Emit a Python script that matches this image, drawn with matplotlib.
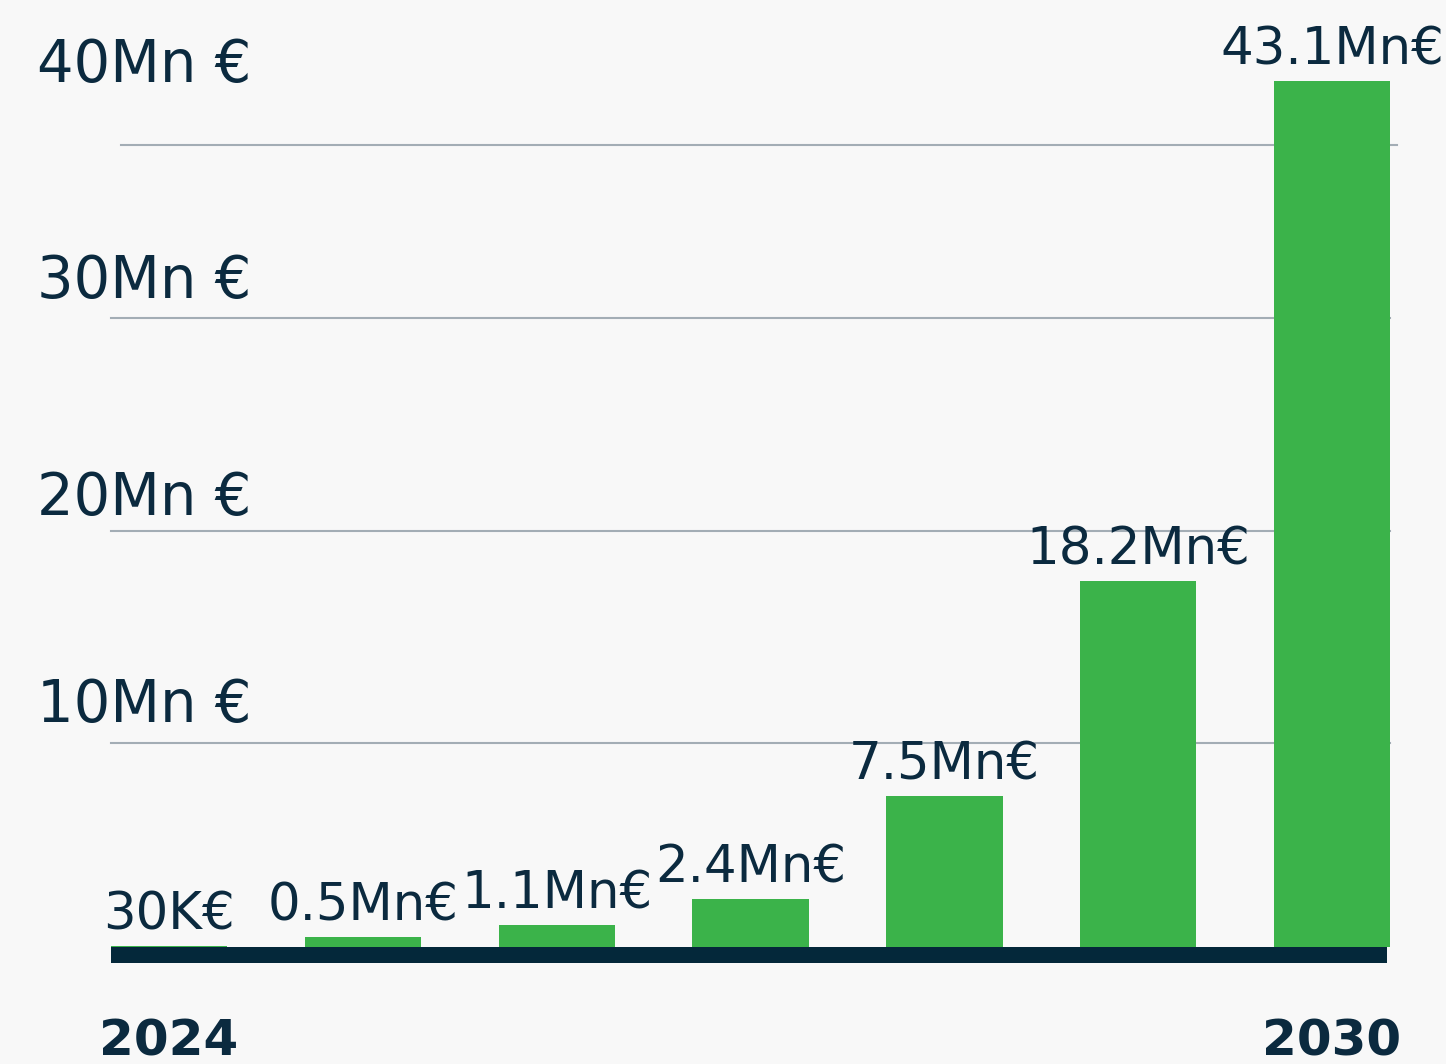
import matplotlib.pyplot as plt

# values in Mn EUR, 2024 -> 2030
years = ["2024", "2025", "2026", "2027", "2028", "2029", "2030"]
revenue = [0.03, 0.5, 1.1, 2.4, 7.5, 18.2, 43.1]
value_labels = ["30K€", "0.5Mn€", "1.1Mn€", "2.4Mn€", "7.5Mn€", "18.2Mn€", "43.1Mn€"]
tick_labels = ["10Mn €", "20Mn €", "30Mn €", "40Mn €"]
grid_levels = [10.15, 20.7, 31.3, 39.9]  # where the guide lines sit in the picture

bg = "#f8f8f8"
green = "#3bb34a"
navy = "#04283a"
text_c = "#0b2a3f"
grid_c = "#a3adb5"

fig = plt.figure(figsize=(14.46, 10.64), dpi=100, facecolor=bg)
ax = fig.add_axes([0, 0, 1, 1])
ax.set_facecolor(bg)
ax.set_xlim(-0.872, 6.588)
ax.set_ylim(-5.82, 47.14)
ax.axis("off")

x = list(range(len(years)))

# guide lines behind the bars
for i, g in enumerate(grid_levels):
    if i == len(grid_levels) - 1:
        ax.plot([-0.25, 6.336], [g, g], color=grid_c, lw=1.5, zorder=1)
    else:
        ax.plot([-0.3, 6.3], [g, g], color=grid_c, lw=1.5, zorder=1)

# y labels sit above their guide line
label_offsets = [21, 16, 20, 63]  # px above line
for g, lab, off in zip(grid_levels, tick_labels, label_offsets):
    ax.annotate(lab, (0, g), xycoords=("figure pixels", "data"),
                xytext=(37 * 0.72, off * 0.72), textcoords="offset points",
                fontsize=41.5, color=text_c, va="baseline", ha="left")

bars = ax.bar(x, revenue, width=0.6, color=green, zorder=2)

for xi, v, lab in zip(x, revenue, value_labels):
    ax.annotate(lab, (xi, v), xytext=(0, 12), textcoords="offset points",
                ha="center", va="baseline", fontsize=37, color=text_c, zorder=3)

# thick base strip under the bars
ax.fill_between([-0.3, 6.285], -0.8, 0, color=navy, lw=0, zorder=3)

for xi in (x[0], x[-1]):
    ax.text(xi, -5.38, years[xi], ha="center", va="baseline", fontsize=36,
            fontweight="bold", color=text_c)

fig.savefig("out.png", dpi=100, facecolor=bg)
